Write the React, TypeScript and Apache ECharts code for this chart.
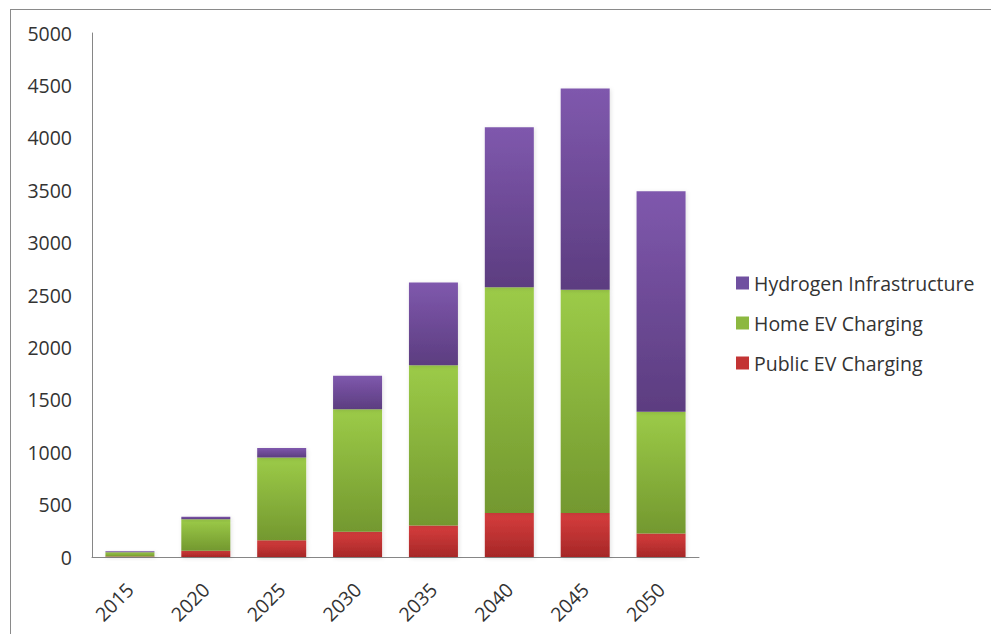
import React, { useEffect, useRef } from "react";
import * as echarts from "echarts";

// Annual investment by infrastructure type, stacked per year
const years = ["2015", "2020", "2025", "2030", "2035", "2040", "2045", "2050"];
const publicEvCharging = [5, 60, 160, 240, 300, 420, 420, 225];
const homeEvCharging = [40, 300, 790, 1170, 1530, 2155, 2130, 1160];
const hydrogenInfrastructure = [10, 25, 90, 320, 790, 1525, 1920, 2105];
const yTicks = { min: 0, max: 5000, interval: 500 };

const FONT = "'Open Sans', 'Liberation Sans', sans-serif";
const TEXT = "#333333";
const FS = 19.5;

const grad = (top: string, bottom: string) =>
  new echarts.graphic.LinearGradient(0, 0, 0, 1, [
    { offset: 0, color: top },
    { offset: 1, color: bottom },
  ]);

const barShadow = {
  shadowBlur: 4,
  shadowColor: "rgba(0,0,0,0.12)",
  shadowOffsetX: 1,
  shadowOffsetY: 1,
};

export default function App() {
  const ref = useRef<HTMLDivElement>(null);

  useEffect(() => {
    if (!ref.current) return;
    const chart = echarts.init(ref.current, null, { renderer: "svg" });
    chart.setOption({
      animation: false,
      backgroundColor: "#ffffff",
      textStyle: { fontFamily: FONT },
      grid: { left: 92, right: 292, top: 33, bottom: 77, containLabel: false },
      legend: {
        orient: "vertical",
        left: 731,
        top: 268,
        icon: "rect",
        itemWidth: 13,
        itemHeight: 13,
        itemGap: 20,
        textStyle: { fontFamily: FONT, fontSize: FS, color: TEXT, lineHeight: 20 },
        data: [
          { name: "Hydrogen Infrastructure", itemStyle: { color: "#7050a0" } },
          { name: "Home EV Charging", itemStyle: { color: "#8cb840" } },
          { name: "Public EV Charging", itemStyle: { color: "#c33434" } },
        ],
      },
      xAxis: {
        type: "category",
        data: years,
        axisLine: { lineStyle: { color: "#868686", width: 1 } },
        axisTick: { show: false },
        axisLabel: {
          rotate: 45,
          margin: 29,
          fontSize: FS,
          fontFamily: FONT,
          color: TEXT,
        },
      },
      yAxis: {
        type: "value",
        min: yTicks.min,
        max: yTicks.max,
        interval: yTicks.interval,
        axisLine: { show: true, lineStyle: { color: "#868686", width: 1 } },
        axisTick: { show: false },
        splitLine: { show: false },
        axisLabel: {
          margin: 20,
          fontSize: FS,
          fontFamily: FONT,
          color: TEXT,
          formatter: (v: number) => String(v),
        },
      },
      series: [
        {
          name: "Public EV Charging",
          type: "bar",
          stack: "total",
          barWidth: 49,
          data: publicEvCharging,
          itemStyle: { color: grad("#d63d3d", "#a62727"), ...barShadow },
        },
        {
          name: "Home EV Charging",
          type: "bar",
          stack: "total",
          barWidth: 49,
          data: homeEvCharging,
          itemStyle: { color: grad("#9ccb48", "#73982f"), ...barShadow },
        },
        {
          name: "Hydrogen Infrastructure",
          type: "bar",
          stack: "total",
          barWidth: 49,
          data: hydrogenInfrastructure,
          itemStyle: { color: grad("#7f58ad", "#5c3d80"), ...barShadow },
        },
      ],
      graphic: [
        {
          type: "line",
          shape: { x1: 10.5, y1: 9, x2: 10.5, y2: 634 },
          style: { stroke: "#8a8a8a", lineWidth: 1 },
        },
        {
          type: "line",
          shape: { x1: 10, y1: 9.5, x2: 991, y2: 9.5 },
          style: { stroke: "#8a8a8a", lineWidth: 1 },
        },
      ],
    });
    return () => chart.dispose();
  }, []);

  return (
    <div
      ref={ref}
      style={{ position: "fixed", left: 0, top: 0, width: 991, height: 634 }}
    />
  );
}
